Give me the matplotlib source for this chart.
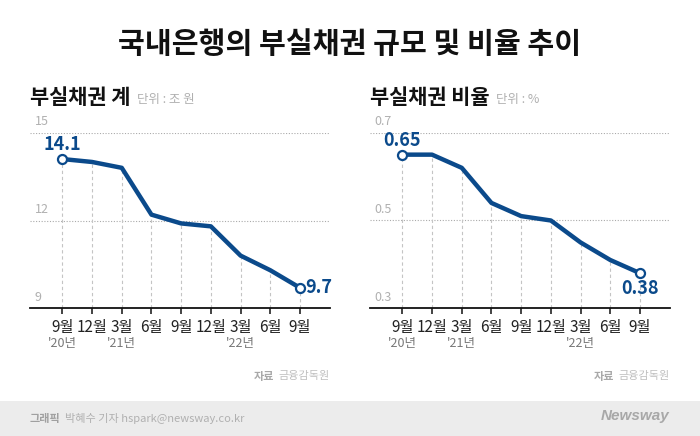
import matplotlib
matplotlib.use("Agg")
import matplotlib.pyplot as plt

plt.rcParams['font.family'] = ['Noto Sans CJK KR', 'DejaVu Sans']

months = ["9월", "12월", "3월", "6월", "9월", "12월", "3월", "6월", "9월"]
years = ["'20년", "", "'21년", "", "", "", "'22년", "", ""]
npl_amount = [14.1, 14.0, 13.8, 12.2, 11.9, 11.8, 10.8, 10.3, 9.7]
npl_ratio = [0.65, 0.65, 0.62, 0.54, 0.51, 0.50, 0.45, 0.41, 0.38]

amount_ticks = [9, 12, 15]
ratio_ticks = [0.3, 0.5, 0.7]

W, H = 700, 436
BLUE = "#0b4a8b"
fig = plt.figure(figsize=(7, 4.36), dpi=100)
fig.patch.set_facecolor("white")

def fx(px):
    return px / W

def fy(py):
    return 1 - py / H

# footer band
fig.patches.append(plt.Rectangle((0, 0), 1, fy(401), transform=fig.transFigure,
                                 facecolor="#ececec", edgecolor="none", zorder=0))

fig.text(0.5, fy(44), "국내은행의 부실채권 규모 및 비율 추이", ha="center", va="center",
         fontsize=21, fontweight=900, color="#111111")

def draw_panel(left_px, values, ticks, title, unit, labels_fmt, last_below):
    ax = fig.add_axes([fx(left_px), fy(308.3), fx(300), (308.3 - 132.7) / H])
    n = len(values)
    xs = list(range(n))
    ax.set_xlim(-1.088, n - 1 + 1.01)
    ax.set_ylim(ticks[0], ticks[-1])
    for s in ["top", "right", "left"]:
        ax.spines[s].set_visible(False)
    ax.spines["bottom"].set_color("#111111")
    ax.spines["bottom"].set_linewidth(1.3)
    ax.set_yticks([])
    ax.set_xticks(xs)
    ax.set_xticklabels([])
    ax.tick_params(axis="x", length=4, width=1.1, color="#111111", direction="out")
    for t in ticks[1:]:
        ax.axhline(t, color="#aaaaaa", linestyle=(0, (1, 1.5)), linewidth=0.8, zorder=1)
    for t in ticks:
        ax.annotate(f"{t:g}", xy=(0, t), xycoords=("axes fraction", "data"),
                    xytext=(3.5, 8), textcoords="offset points", ha="left", va="center",
                    fontsize=9, color="#b0b0b0", fontweight="light")
    for x, v in zip(xs, values):
        ax.plot([x, x], [ticks[0], v], color="#c4c4c4", linestyle=(0, (3, 2.5)),
                linewidth=0.8, zorder=1)
    ax.plot(xs, values, color=BLUE, linewidth=3.2, solid_joinstyle="round",
            solid_capstyle="round", zorder=3)
    ax.plot([xs[0], xs[-1]], [values[0], values[-1]], linestyle="none", marker="o",
            markersize=6.5, markerfacecolor="white", markeredgecolor=BLUE,
            markeredgewidth=1.6, zorder=4)
    ax.annotate(labels_fmt(values[0]), xy=(xs[0], values[0]), xytext=(0, 10.5),
                textcoords="offset points", ha="center", va="center", fontsize=13,
                fontweight="bold", color=BLUE, annotation_clip=False)
    if last_below:
        ax.annotate(labels_fmt(values[-1]), xy=(xs[-1], values[-1]), xytext=(0, -11),
                    textcoords="offset points", ha="center", va="center", fontsize=13,
                    fontweight="bold", color=BLUE, annotation_clip=False)
    else:
        ax.annotate(labels_fmt(values[-1]), xy=(xs[-1], values[-1]), xytext=(3.5, 0),
                    textcoords="offset points", ha="left", va="center", fontsize=13,
                    fontweight="bold", color=BLUE, annotation_clip=False)
    for x, m, y in zip(xs, months, years):
        ax.annotate(m, xy=(x, 0), xycoords=("data", "axes fraction"), xytext=(0, -14),
                    textcoords="offset points", ha="center", va="center",
                    fontsize=11, color="#222222", annotation_clip=False)
        if y:
            ax.annotate(y, xy=(x, 0), xycoords=("data", "axes fraction"), xytext=(0, -25.5),
                        textcoords="offset points", ha="center", va="center",
                        fontsize=9, color="#777777", annotation_clip=False)
    # subtitle
    t = fig.text(fx(left_px), fy(97), title, ha="left", va="center", fontsize=15,
                 fontweight=900, color="#111111")
    fig.canvas.draw()
    bb = t.get_window_extent()
    fig.text(bb.x1 / W + fx(7), fy(99), unit, ha="left", va="center", fontsize=9,
             color="#b0b0b0")
    # source
    s2 = fig.text(fx(left_px + 300), fy(376), "금융감독원", ha="right", va="center",
                  fontsize=8, color="#c0c0c0")
    fig.canvas.draw()
    bb2 = s2.get_window_extent()
    fig.text(bb2.x0 / W - fx(4), fy(376), "자료", ha="right", va="center", fontsize=8,
             fontweight="bold", color="#a8a8a8")
    return ax

draw_panel(30, npl_amount, amount_ticks, "부실채권 계", "단위 : 조 원",
           lambda v: f"{v:.1f}", last_below=False)
draw_panel(370, npl_ratio, ratio_ticks, "부실채권 비율", "단위 : %",
           lambda v: f"{v:.2f}", last_below=True)

# footer
g = fig.text(fx(30), fy(418), "그래픽", ha="left", va="center", fontsize=8,
             fontweight="bold", color="#a0a0a0")
fig.canvas.draw()
bbg = g.get_window_extent()
fig.text(bbg.x1 / W + fx(4), fy(418), "박혜수 기자 hspark@newsway.co.kr", ha="left",
         va="center", fontsize=8, color="#b0b0b0")
fig.text(fx(669), fy(416), "Newsway", ha="right", va="center", fontsize=11,
         fontstyle="italic", fontweight="bold", color="#a8a8a8",
         family=["Liberation Sans", "DejaVu Sans"])

fig.savefig("out.png", dpi=100, facecolor="white")
